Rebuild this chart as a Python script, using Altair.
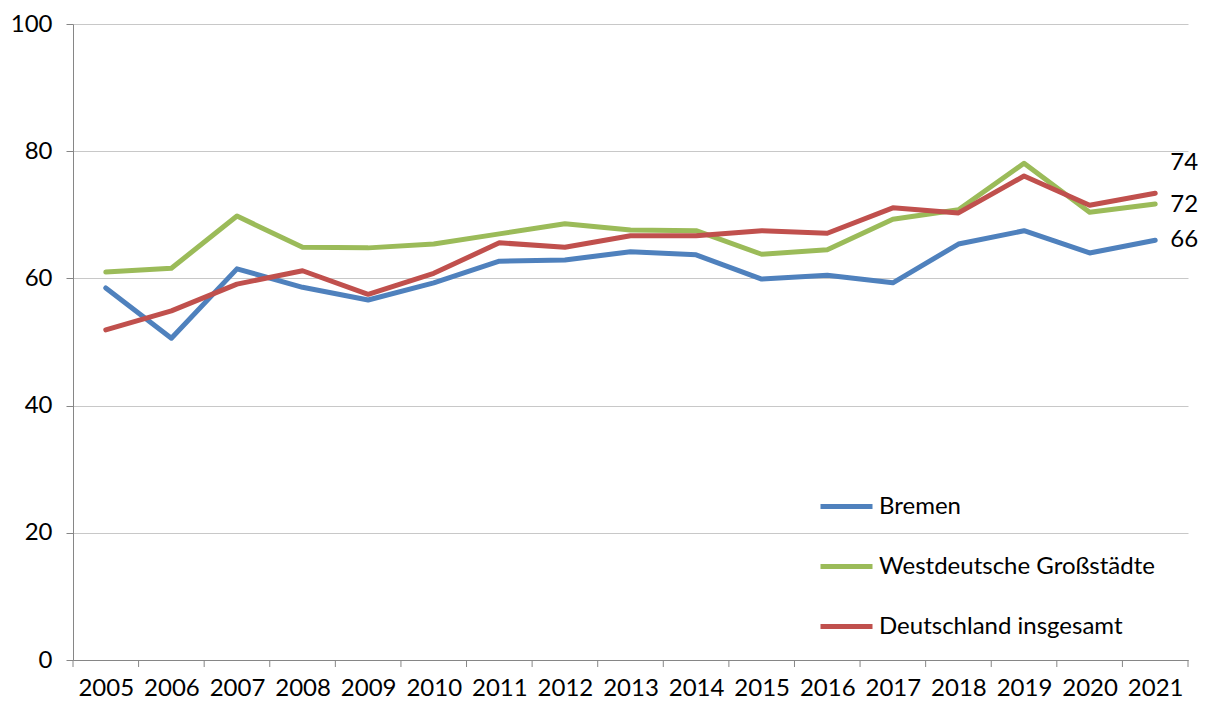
import altair as alt
import pandas as pd

years = list(range(2005, 2022))
bremen = [58.5, 50.6, 61.5, 58.6, 56.6, 59.3, 62.7, 62.9, 64.2, 63.7, 59.9, 60.5, 59.3, 65.4, 67.5, 64.0, 66.0]
west = [61.0, 61.6, 69.8, 64.9, 64.8, 65.4, 67.0, 68.6, 67.6, 67.5, 63.8, 64.5, 69.3, 70.8, 78.1, 70.4, 71.7]
de = [51.9, 54.9, 59.1, 61.2, 57.5, 60.8, 65.6, 64.9, 66.7, 66.7, 67.5, 67.1, 71.1, 70.3, 76.1, 71.5, 73.4]
series_names = ["Bremen", "Westdeutsche Großstädte", "Deutschland insgesamt"]
end_labels = ["66", "72", "74"]
colors = ["#4F81BD", "#9BBB59", "#C0504D"]
y_ticks = [0, 20, 40, 60, 80, 100]

rows = []
for name, vals in zip(series_names, [bremen, west, de]):
    for yr, v in zip(years, vals):
        rows.append({"Jahr": yr, "Wert": v, "Reihe": name})
df = pd.DataFrame(rows)

boundaries = [y - 0.5 for y in years] + [years[-1] + 0.5]
df_b = pd.DataFrame({"b": boundaries})

xscale = alt.Scale(domain=[2004.5, 2021.5], nice=False, zero=False)
yscale = alt.Scale(domain=[0, 100], nice=False)
cscale = alt.Scale(domain=series_names, range=colors)

FS = 24

lines = alt.Chart(df).mark_line(strokeWidth=5, strokeJoin="round", strokeCap="round").encode(
    x=alt.X("Jahr:Q", scale=xscale,
            axis=alt.Axis(values=years, format="d", ticks=False, grid=False, title=None,
                          labelFontSize=FS, labelPadding=16, domainColor="#868686", labelColor="#000")),
    y=alt.Y("Wert:Q", scale=yscale,
            axis=alt.Axis(values=y_ticks, title=None, tickSize=7, tickColor="#868686",
                          domainColor="#868686", gridColor="#C8C8C8", labelFontSize=FS,
                          labelPadding=14, labelColor="#000")),
    color=alt.Color("Reihe:N", scale=cscale, sort=series_names,
                    legend=alt.Legend(title=None, orient="none", legendX=745, legendY=454,
                                      symbolType="stroke", symbolSize=2704, symbolStrokeWidth=5,
                                      labelFontSize=FS, labelOffset=4, rowPadding=19, padding=0,
                                      labelColor="#000", labelLimit=400)),
)

ticks = alt.Chart(df_b).mark_rule(color="#868686", strokeWidth=1).encode(
    x=alt.X("b:Q", scale=xscale),
    y=alt.value(636), y2=alt.value(643),
)

label_dy = [0, 1, -30]
texts = []
for name, vals, lab, dy in zip(series_names, [bremen, west, de], end_labels, label_dy):
    t = alt.Chart(pd.DataFrame({"Jahr": [years[-1]], "Wert": [vals[-1]], "t": [lab]})).mark_text(
        align="left", baseline="middle", dx=15, dy=dy, fontSize=FS, color="#000"
    ).encode(x=alt.X("Jahr:Q", scale=xscale), y=alt.Y("Wert:Q", scale=yscale), text="t:N")
    texts.append(t)

chart = alt.layer(ticks, lines, *texts).properties(
    width=1115, height=636,
    autosize=alt.AutoSizeParams(type="none"),
    padding={"left": 65, "top": 16, "right": 10, "bottom": 40},
).configure(font="Lato").configure_view(stroke=None)

chart.save("out.html", embed_options={"renderer": "svg", "actions": False})
